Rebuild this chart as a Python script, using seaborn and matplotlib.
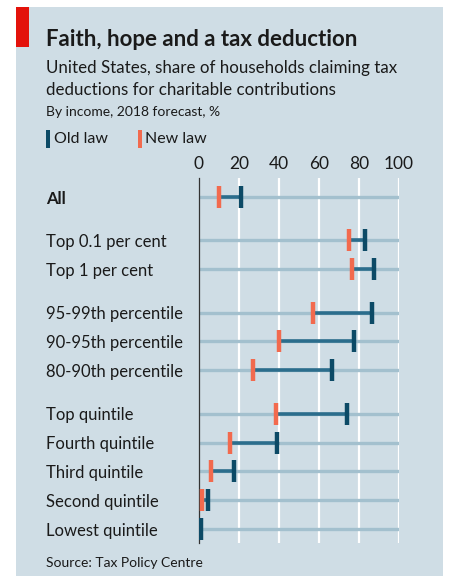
import matplotlib
matplotlib.use("Agg")

import pandas as pd
import numpy as np

import matplotlib.pyplot as plt
import matplotlib.patches as mpatches
import seaborn as sns

# ==========================================================
# DATA
# ==========================================================

labels = [
    "All",
    "Top 0.1 per cent",
    "Top 1 per cent",
    "95-99th percentile",
    "90-95th percentile",
    "80-90th percentile",
    "Top quintile",
    "Fourth quintile",
    "Third quintile",
    "Second quintile",
    "Lowest quintile",
]

# row positions (gaps between groups)
positions = [0, 1.5, 2.5, 4, 5, 6, 7.5, 8.5, 9.5, 10.5, 11.5]

old_law = [21, 83, 87.5, 86.5, 77.5, 66.5, 74, 39, 17.5, 4.5, 1]
new_law = [10, 75, 76.5, 57, 40, 27, 38.5, 15.5, 6, 1.5, 0.5]

x_ticks = [0, 20, 40, 60, 80, 100]

df = pd.DataFrame({
    "label": labels,
    "pos": positions,
    "old": old_law,
    "new": new_law,
})

# ==========================================================
# STYLE
# ==========================================================

BG = "#cfdde5"
OLD_COL = "#0c4a66"
NEW_COL = "#f26a4e"
LINK_COL = "#2b6d8c"
ROW_COL = "#a3c0ce"
TEXT = "#1a1a1a"

sns.set_theme(style="white")
plt.rcParams["font.family"] = ["Lato", "DejaVu Sans"]

fig = plt.figure(figsize=(4.55, 5.76), dpi=100)
fig.patch.set_facecolor("white")

# background panel
fig.patches.append(mpatches.Rectangle(
    (16 / 455, 0), (443 - 16) / 455, 1 - 7 / 576,
    transform=fig.transFigure, facecolor=BG, edgecolor="none", zorder=-10))
# red tag
fig.patches.append(mpatches.Rectangle(
    (16 / 455, 1 - 47 / 576), 13 / 455, 40 / 576,
    transform=fig.transFigure, facecolor="#e3120b", edgecolor="none", zorder=-5))

ax = fig.add_axes([199 / 455, 1 - 543 / 576, 200 / 455, 365 / 576])
ax.set_facecolor(BG)
ax.patch.set_alpha(0)

# ==========================================================
# PLOT
# ==========================================================

for gx in x_ticks[1:]:
    ax.axvline(gx, color="white", lw=1.6, zorder=0)

ax.hlines(df["pos"], 0, 100, color=ROW_COL, lw=2.4, zorder=1)
ax.hlines(df["pos"], df["new"], df["old"], color=LINK_COL, lw=2.6, zorder=2)

sns.scatterplot(data=df, x="old", y="pos", marker="|", s=240,
                color=OLD_COL, linewidth=3.2, ax=ax, zorder=4, legend=False)
sns.scatterplot(data=df, x="new", y="pos", marker="|", s=240,
                color=NEW_COL, linewidth=3.2, ax=ax, zorder=3, legend=False)

ax.set_xlim(0, 100)
ax.set_ylim(11.98, -0.66)
ax.set_xlabel("")
ax.set_ylabel("")

ax.xaxis.tick_top()
ax.set_xticks(x_ticks)
ax.set_xticklabels([str(t) for t in x_ticks], fontsize=12.5, color=TEXT)
ax.tick_params(axis="x", length=0, pad=4)

ax.set_yticks(positions)
ax.set_yticklabels(labels, fontsize=12, color=TEXT, ha="left")
ax.tick_params(axis="y", length=0, pad=110)
ax.get_yticklabels()[0].set_fontweight("bold")

for side in ["top", "right", "bottom"]:
    ax.spines[side].set_visible(False)
ax.spines["left"].set_color("#333333")
ax.spines["left"].set_linewidth(0.9)

# ==========================================================
# TEXT
# ==========================================================

fig.text(46 / 455, 1 - 40 / 576, "Faith, hope and a tax deduction",
         fontsize=16, fontweight="bold", color=TEXT, va="center")
fig.text(46 / 455, 1 - 68 / 576, "United States, share of households claiming tax",
         fontsize=12.2, color=TEXT, va="center")
fig.text(46 / 455, 1 - 90 / 576, "deductions for charitable contributions",
         fontsize=12.2, color=TEXT, va="center")
fig.text(46 / 455, 1 - 112 / 576, "By income, 2018 forecast, %",
         fontsize=10, color=TEXT, va="center")

# legend
fig.patches.append(mpatches.Rectangle(
    (46 / 455, 1 - 148 / 576), 4 / 455, 18 / 576,
    transform=fig.transFigure, facecolor=OLD_COL, edgecolor="none"))
fig.text(54 / 455, 1 - 139 / 576, "Old law", fontsize=11.5, color=TEXT, va="center")
fig.patches.append(mpatches.Rectangle(
    (138 / 455, 1 - 148 / 576), 4 / 455, 18 / 576,
    transform=fig.transFigure, facecolor=NEW_COL, edgecolor="none"))
fig.text(145 / 455, 1 - 139 / 576, "New law", fontsize=11.5, color=TEXT, va="center")

fig.text(46 / 455, 1 - 563 / 576, "Source: Tax Policy Centre",
         fontsize=10, color=TEXT, va="center")

fig.savefig("out.png", dpi=100, facecolor=fig.get_facecolor())
